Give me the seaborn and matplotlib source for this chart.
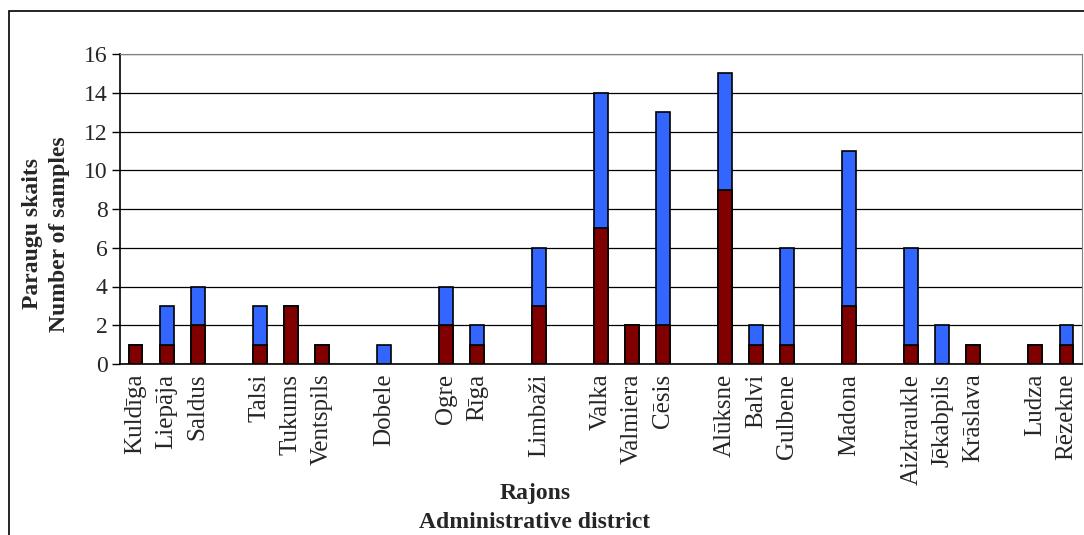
import matplotlib
matplotlib.use("Agg")
import matplotlib.pyplot as plt
import matplotlib.patches as mpatches
import pandas as pd
import seaborn as sns

# districts in chart order, "" marks an empty gap slot
districts = ["Kuldīga", "Liepāja", "Saldus", "", "Talsi", "Tukums", "Ventspils", "",
             "Dobele", "", "Ogre", "Rīga", "", "Limbaži", "", "Valka", "Valmiera", "Cēsis", "",
             "Alūksne", "Balvi", "Gulbene", "", "Madona", "", "Aizkraukle", "Jēkabpils",
             "Krāslava", "", "Ludza", "Rēzekne"]
red_vals = [1, 1, 2, 0, 1, 3, 1, 0, 0, 0, 2, 1, 0, 3, 0, 7, 2, 2, 0, 9, 1, 1, 0, 3, 0, 1, 0, 1, 0, 1, 1]
blue_vals = [0, 2, 2, 0, 2, 0, 0, 0, 1, 0, 2, 1, 0, 3, 0, 7, 0, 11, 0, 6, 1, 5, 0, 8, 0, 5, 2, 0, 0, 0, 1]

keys = [d if d else "_gap%d" % i for i, d in enumerate(districts)]
df = pd.DataFrame({"key": keys, "red": red_vals, "blue": blue_vals})
df["total"] = df["red"] + df["blue"]

sns.set_style("white")
plt.rcParams["font.family"] = ["Liberation Serif", "DejaVu Serif"]

fig = plt.figure(figsize=(10.84, 5.35), dpi=100)
ax = fig.add_axes([120 / 1084, 1 - 364 / 535, (1082 - 120) / 1084, (364 - 54) / 535])

sns.barplot(data=df, x="key", y="total", order=keys, color="#3366FF",
            edgecolor="black", linewidth=1.2, width=0.45, saturation=1, ax=ax)
sns.barplot(data=df, x="key", y="red", order=keys, color="#800000",
            edgecolor="black", linewidth=1.2, width=0.45, saturation=1, ax=ax)

# hide zero-height bars' edges
for p in ax.patches:
    if p.get_height() == 0:
        p.set_visible(False)

ax.set_ylim(0, 16)
ax.set_xlim(-0.5, len(keys) - 0.5)
ax.set_yticks(range(0, 17, 2))
ax.yaxis.grid(True, color="black", linewidth=0.9)
ax.set_axisbelow(True)

ax.set_xticks(range(len(keys)))
ax.set_xticklabels(districts, rotation=90, fontsize=18)
ax.set_xticks([i + 0.5 for i in range(-1, len(keys))], minor=True)
ax.tick_params(axis="x", which="major", length=0, pad=7)
ax.tick_params(axis="x", which="minor", length=6, width=1, color="black", direction="out")
ax.tick_params(axis="y", length=6, width=1, color="black", direction="out", labelsize=17, left=True,
               pad=3)

for s in ["left", "bottom"]:
    ax.spines[s].set_color("black")
    ax.spines[s].set_linewidth(1.2)
ax.spines["top"].set_color("gray")
ax.spines["right"].set_color("gray")

ax.set_xlabel("")
ax.set_ylabel("Paraugu skaits\nNumber of samples", fontsize=17, fontweight="bold",
              linespacing=1.35)
ax.yaxis.set_label_coords(-0.052, 0.42)

fig.text(535 / 1084, 1 - 508 / 535, "Rajons\nAdministrative district", ha="center",
         va="center", fontsize=17, fontweight="bold", linespacing=1.55)

# outer chart frame
fig.add_artist(mpatches.Rectangle((9 / 1084, -0.2), 1.2, 1 - 11 / 535 + 0.2,
                                  transform=fig.transFigure, fill=False,
                                  edgecolor="black", linewidth=1.2))

fig.savefig("out.png", dpi=100)
